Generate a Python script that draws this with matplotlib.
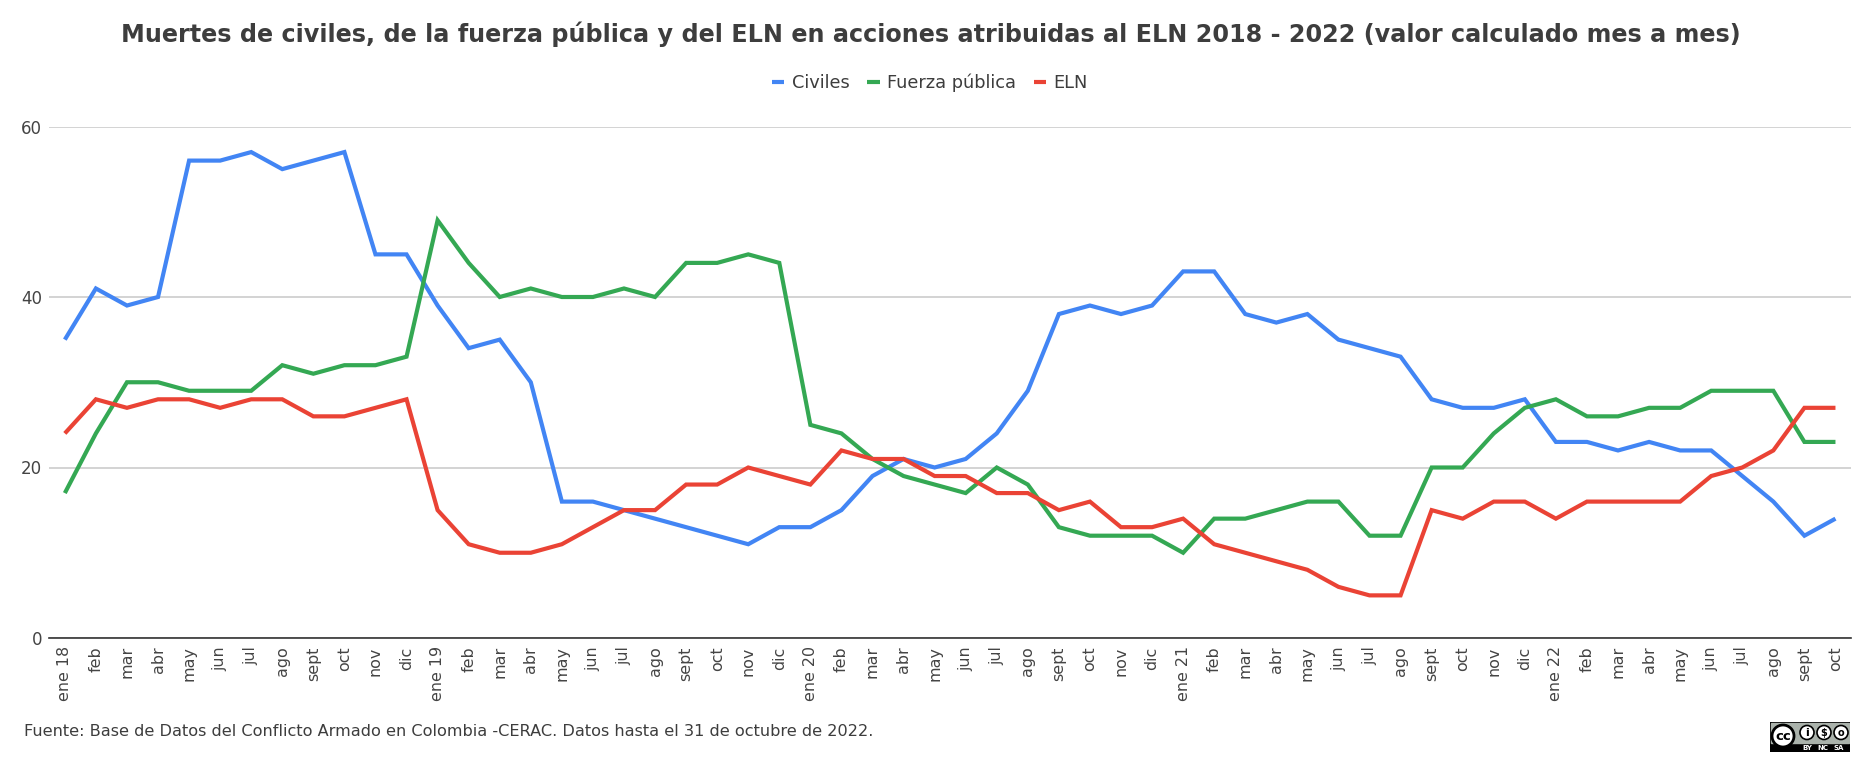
import matplotlib
matplotlib.use("Agg")
import matplotlib.pyplot as plt
from matplotlib.patches import Rectangle, Circle

# data, one value per month
years = ["18", "19", "20", "21", "22"]
month_names = ["ene", "feb", "mar", "abr", "may", "jun", "jul", "ago", "sept", "oct", "nov", "dic"]
months = []
for y in years:
    for m in month_names:
        months.append(m + " " + y if m == "ene" else m)
months = months[:58]  # data stops at oct 22

civiles = [35, 41, 39, 40, 56, 56, 57, 55, 56, 57, 45, 45,
           39, 34, 35, 30, 16, 16, 15, 14, 13, 12, 11, 13,
           13, 15, 19, 21, 20, 21, 24, 29, 38, 39, 38, 39,
           43, 43, 38, 37, 38, 35, 34, 33, 28, 27, 27, 28,
           23, 23, 22, 23, 22, 22, 19, 16, 12, 14]
fuerza = [17, 24, 30, 30, 29, 29, 29, 32, 31, 32, 32, 33,
          49, 44, 40, 41, 40, 40, 41, 40, 44, 44, 45, 44,
          25, 24, 21, 19, 18, 17, 20, 18, 13, 12, 12, 12,
          10, 14, 14, 15, 16, 16, 12, 12, 20, 20, 24, 27,
          28, 26, 26, 27, 27, 29, 29, 29, 23, 23]
eln = [24, 28, 27, 28, 28, 27, 28, 28, 26, 26, 27, 28,
       15, 11, 10, 10, 11, 13, 15, 15, 18, 18, 20, 19,
       18, 22, 21, 21, 19, 19, 17, 17, 15, 16, 13, 13,
       14, 11, 10, 9, 8, 6, 5, 5, 15, 14, 16, 16,
       14, 16, 16, 16, 16, 19, 20, 22, 27, 27]

W, H = 1858, 759
text_color = "#3d3d3d"

fig = plt.figure(figsize=(W / 100, H / 100), dpi=100)
# axes box in pixels: x 49.3-1851, y 126.5-638
ax = fig.add_axes([49.3 / W, 1 - 638 / H, (1851 - 49.3) / W, (638 - 126.5) / H])

x = list(range(len(months)))
style = dict(lw=3, solid_joinstyle="miter", solid_capstyle="butt")
l1, = ax.plot(x, civiles, color="#4285F4", label="Civiles", **style)
l2, = ax.plot(x, fuerza, color="#34A853", label="Fuerza pública", **style)
l3, = ax.plot(x, eln, color="#EA4335", label="ELN", **style)

ax.set_xlim(-0.5, len(months) - 0.5)
ax.set_ylim(0, 60)
ax.set_yticks([0, 20, 40, 60])
ax.set_xticks(x)
ax.set_xticklabels(months, rotation=90, fontsize=11.4)
ax.tick_params(axis="x", length=0, pad=6, colors="#444444")
ax.tick_params(axis="y", length=0, pad=5, labelsize=12, colors="#444444")
ax.grid(axis="y", color="#cccccc", lw=1.2)
ax.set_axisbelow(True)
for s in ["top", "right", "left"]:
    ax.spines[s].set_visible(False)
ax.spines["bottom"].set_color("#333333")
ax.spines["bottom"].set_linewidth(1.2)

fig.text(931 / W, 1 - 34.5 / H, "Muertes de civiles, de la fuerza pública y del ELN en acciones atribuidas al ELN 2018 - 2022 (valor calculado mes a mes)",
         ha="center", va="center", fontsize=17.2, fontweight="bold", color=text_color)
fig.legend(handles=[l1, l2, l3], loc="center", bbox_to_anchor=(930 / W, 1 - 83 / H), ncols=3, frameon=False,
           fontsize=12.8, handlelength=0.68, handletextpad=0.42, columnspacing=1.0, labelcolor=text_color)
fig.text(24 / W, 1 - 732 / H, "Fuente: Base de Datos del Conflicto Armado en Colombia -CERAC. Datos hasta el 31 de octubre de 2022.",
         ha="left", va="center", fontsize=11.63, color=text_color)

# CC BY-NC-SA badge
badge = fig.add_axes([1770 / W, 1 - 752 / H, 80 / W, 30 / H])
badge.set_xlim(0, 80)
badge.set_ylim(30, 0)
badge.axis("off")
badge.add_patch(Rectangle((0, 0), 80, 30, color="#000000"))
badge.add_patch(Rectangle((0.8, 0.8), 78.4, 20, color="#aab2ab"))
badge.add_patch(Circle((13, 14), 11, fc="white", ec="black", lw=2))
badge.text(13, 14.3, "cc", ha="center", va="center", fontsize=9.5, fontweight="bold", color="black")
for cx in [37, 54, 71]:
    badge.add_patch(Circle((cx, 10.5), 7, fc="white", ec="black", lw=1.2))
badge.text(37, 10.5, "i", ha="center", va="center", fontsize=8, fontweight="bold", color="black")
badge.text(54, 10.5, "$", ha="center", va="center", fontsize=7, fontweight="bold", color="black")
badge.text(71, 10.5, "o", ha="center", va="center", fontsize=7, fontweight="bold", color="black")
for cx, t in zip([37, 53, 69], ["BY", "NC", "SA"]):
    badge.text(cx, 25.8, t, ha="center", va="center", fontsize=5, fontweight="bold", color="white")

fig.savefig("out.png", dpi=100, facecolor="white")
